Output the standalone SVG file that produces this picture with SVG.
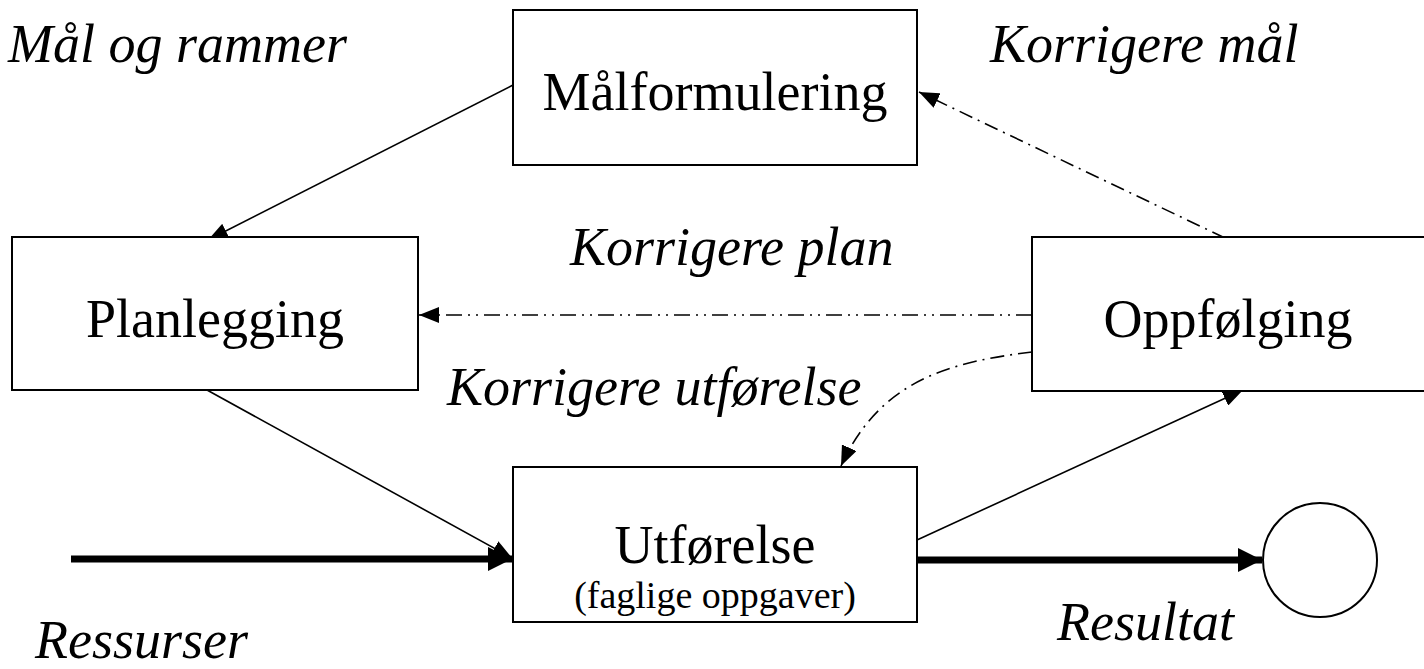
<svg xmlns="http://www.w3.org/2000/svg" width="1424" height="669" viewBox="0 0 1424 669">
<style>
.box{fill:#fff;stroke:#000;stroke-width:2}
.t{font-family:"Liberation Serif","Times New Roman",serif;font-size:54px;fill:#000}
.i{font-family:"Liberation Serif","Times New Roman",serif;font-size:54px;font-style:italic;fill:#000}
.s{font-family:"Liberation Serif","Times New Roman",serif;font-size:38px;fill:#000}
.thin{fill:none;stroke:#000;stroke-width:1.6}
.thick{fill:none;stroke:#000;stroke-width:7}
.dd{fill:none;stroke:#000;stroke-width:1.6;stroke-dasharray:14 6 2 6}
.ddd{fill:none;stroke:#000;stroke-width:1.6;stroke-dasharray:16 6 2 6 2 6}
</style>
<defs>
<marker id="a" markerUnits="userSpaceOnUse" markerWidth="22" markerHeight="16" refX="20" refY="8" orient="auto"><path d="M0,0 L20,8 L0,16 Z" fill="#000"/></marker>
<marker id="b" markerUnits="userSpaceOnUse" markerWidth="24" markerHeight="24" refX="24" refY="12" orient="auto"><path d="M0,0 L24,12 L0,24 Z" fill="#000"/></marker>
</defs>
<g id="labels">
<text class="i" x="8" y="62">Mål og rammer</text>
<text class="i" x="990" y="62">Korrigere mål</text>
<text class="i" x="570" y="265">Korrigere plan</text>
<text class="i" x="447" y="405">Korrigere utførelse</text>
<text class="i" x="35" y="658">Ressurser</text>
<text class="i" x="1057" y="640">Resultat</text>
</g>
<g id="connectors">
<line class="thin" x1="513" y1="85" x2="208" y2="240" marker-end="url(#a)"/>
<line class="thin" x1="207" y1="390" x2="512" y2="558" marker-end="url(#a)"/>
<line class="thin" x1="917" y1="540" x2="1243" y2="390" marker-end="url(#a)"/>
<line class="thick" x1="71" y1="559" x2="512" y2="559" marker-end="url(#b)"/>
<line class="thick" x1="917" y1="560" x2="1262" y2="560" marker-end="url(#b)"/>
<line class="dd" x1="1225" y1="238" x2="919" y2="92" marker-end="url(#a)"/>
<line class="ddd" x1="1032" y1="315" x2="419" y2="315" marker-end="url(#a)"/>
<path class="dd" d="M1032,352 C950,362 880,380 841,466" marker-end="url(#a)"/>
</g>
<g id="malformulering">
<rect class="box" x="513" y="10" width="404" height="155"/>
<text class="t" x="715" y="110" text-anchor="middle">Målformulering</text>
</g>
<g id="planlegging">
<rect class="box" x="12" y="237" width="406" height="153"/>
<text class="t" x="215" y="337" text-anchor="middle">Planlegging</text>
</g>
<g id="oppfolging">
<rect class="box" x="1032" y="237" width="400" height="154"/>
<text class="t" x="1228" y="337" text-anchor="middle">Oppfølging</text>
</g>
<g id="utforelse">
<rect class="box" x="513" y="467" width="404" height="155"/>
<text class="t" x="715" y="563" text-anchor="middle">Utførelse</text>
<text class="s" x="715" y="608" text-anchor="middle">(faglige oppgaver)</text>
</g>
<g id="resultat">
<circle cx="1320" cy="560" r="57" fill="#fff" stroke="#000" stroke-width="2"/>
</g>
</svg>
